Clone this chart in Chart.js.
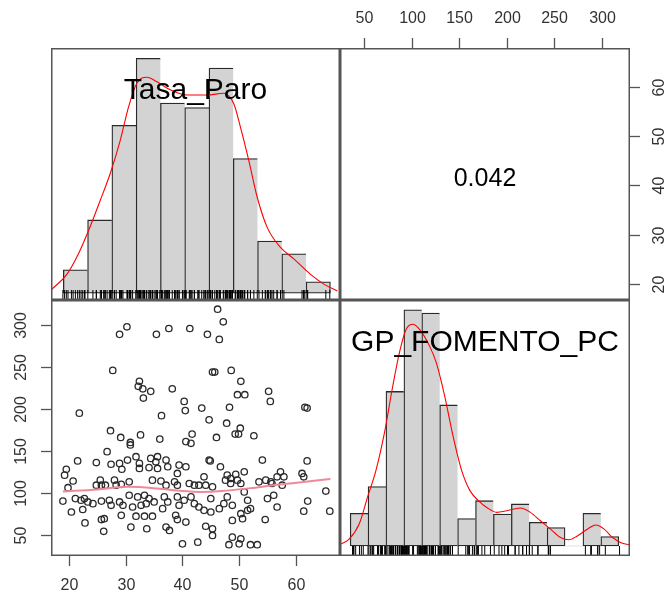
<!DOCTYPE html>
<html>
<head>
<meta charset="utf-8">
<script src="https://cdn.jsdelivr.net/npm/chart.js@4/dist/chart.umd.min.js"></script>
<style>
html,body{margin:0;padding:0;background:#fff;}
#wrap{position:relative;width:667px;height:594px;overflow:hidden;}
canvas{position:absolute;left:0;top:0;}
</style>
</head>
<body>
<div id="wrap">
<canvas id="cTL" width="667" height="594"></canvas>
<canvas id="cTR" width="667" height="594"></canvas>
<canvas id="cBL" width="667" height="594"></canvas>
<canvas id="cBR" width="667" height="594"></canvas>
</div>
<script>
// ---------------- data ----------------
const varNames = ['Tasa_Paro', 'GP_FOMENTO_PC'];
const correlation = 0.042;

const tasaTicks = [20, 30, 40, 50, 60];
const gpTicks = [50, 100, 150, 200, 250, 300];

// histogram of Tasa_Paro (bin edges, density per bin)
const tasaBinEdges = [18.97, 23.26, 27.54, 31.83, 36.11, 40.40, 44.68, 48.97, 53.25, 57.54, 61.82, 66.11];
const tasaHist = [0.0041, 0.0128, 0.0293, 0.0410, 0.0332, 0.0324, 0.0393, 0.0235, 0.0091, 0.0069, 0.0020];

// kernel density of Tasa_Paro
const tasaDensX = [16.94, 19.59, 21.65, 23.41, 25.48, 27.25, 29.02, 30.48, 31.97, 33.74, 35.5, 37.85, 40.8, 44.34, 47.27, 49.04, 50.23, 51.7, 53.18, 54.95, 57.3, 59.65, 62.6, 64.95, 67.32];
const tasaDensY = [0.0007, 0.0033, 0.0069, 0.0109, 0.0162, 0.0209, 0.0267, 0.0325, 0.0367, 0.0377, 0.0369, 0.0355, 0.0346, 0.0346, 0.0349, 0.0331, 0.0290, 0.0232, 0.0168, 0.0115, 0.0080, 0.0060, 0.0033, 0.0016, 0.0004];

// histogram of GP_FOMENTO_PC
const gpBinEdges = [35.2, 54.1, 72.9, 91.8, 110.7, 129.5, 148.4, 167.3, 186.1, 205.0, 223.9, 242.7, 261.6, 280.4, 299.3, 318.2];
const gpHist = [0.00159, 0.00290, 0.00754, 0.01152, 0.01136, 0.00688, 0.00134, 0.00221, 0.00156, 0.00205, 0.00115, 0.00090, 0, 0.00159, 0.00046];

// kernel density of GP_FOMENTO_PC
const gpDensX = [24.5, 34.1, 44.7, 53.5, 62.4, 71.2, 80.0, 87.1, 94.2, 101.2, 108.3, 118.9, 126.0, 134.9, 143.7, 152.6, 161.4, 170.2, 179.1, 189.7, 200.3, 214.4, 225.0, 235.6, 246.2, 256.8, 265.6, 274.5, 285.1, 293.9, 302.8, 311.7, 320.5, 329.3];
const gpDensY = [0.00008, 0.00033, 0.00107, 0.00238, 0.00369, 0.00549, 0.00778, 0.00943, 0.01057, 0.01082, 0.01057, 0.00975, 0.00893, 0.00729, 0.00533, 0.00369, 0.00270, 0.00221, 0.00188, 0.00164, 0.00172, 0.00185, 0.00164, 0.00123, 0.00082, 0.00041, 0.00030, 0.00049, 0.00082, 0.00102, 0.00082, 0.00041, 0.00016, 0.00005];

// scatter: Tasa_Paro (x) vs GP_FOMENTO_PC (y)
const tasaParo = [
 46.2,47.2,30.2,28.9,35.4,37.6,41.3,44.4,46.5,
 27.7,45.3,45.7,48.6,32.4,32.2,33.0,34.4,33.1,38.2,
 50.3,49.7,51.0,55.2,55.5,40.3,40.5,43.4,48.3,21.8,61.6,62.0,
 36.3,44.7,47.8,49.3,50.2,49.9,41.7,41.5,40.6,36.0,46.0,52.6,
 27.3,29.1,32.6,30.8,30.8,26.7,31.8,35.6,54.1,62.0,
 21.5,24.8,27.4,28.9,29.3,19.5,19.2,20.7,19.8,
 25.5,24.8,25.7,26.4,28.0,28.3,29.2,
 30.3,32.4,32.4,34.4,35.3,37.1,34.1,35.6,37.4,39.4,40.6,39.1,
 34.7,36.2,37.1,38.6,39.1,41.2,42.1,30.6,
 44.7,44.9,46.7,47.9,48.5,49.4,49.7,50.3,48.5,50.9,47.6,
 43.8,44.1,42.9,45.3,53.5,54.7,55.6,50.9,
 57.3,57.9,56.7,57.6,55.8,61.1,61.4,65.3,
 18.9,21.1,22.1,22.7,23.3,24.2,25.7,27.1,27.4,28.9,29.5,
 20.4,22.4,25.7,26.2,29.2,22.8,26.1,
 30.6,32.1,33.3,34.1,35.0,33.6,32.7,31.2,36.8,37.4,39.1,40.3,41.5,42.1,39.4,36.5,
 31.8,33.3,34.7,38.8,40.6,39.1,30.9,33.7,37.1,37.7,40.0,42.7,
 55.0,51.5,45.0,47.9,47.3,48.8,46.5,43.8,45.0,42.9,50.3,51.5,52.0,50.6,48.8,44.1,45.3,45.3,48.8,50.3,48.2,50.0,52.0,53.2,
 56.1,56.7,62.1,61.4,66.0,54.6
];
const gpFomento = [
 319,304,298,289,289,296,296,289,283,
 246,244,244,246,233,227,224,221,213,224,
 233,217,217,221,209,209,198,201,202,195,202,201,
 192,187,183,170,177,170,170,159,161,164,166,168,
 174,166,169,160,157,149,143,143,139,138,
 138,136,134,135,128,128,121,114,106,
 115,109,109,109,115,109,110,
 139,135,129,141,137,139,130,129,131,133,131,123,
 115,114,109,113,109,111,109,113,
 139,138,131,121,117,122,115,111,111,125,115,
 119,109,109,107,113,115,113,101,
 125,119,119,109,111,123,119,102,
 90,93,91,93,89,87,90,91,85,89,85,
 77,80,68,69,73,64,54,
 97,95,97,93,89,87,85,83,95,89,95,91,95,87,85,81,
 72,72,72,73,65,68,59,57,59,55,39,41,
 93,91,93,95,87,85,81,79,77,83,75,79,81,69,67,60,57,49,47,45,38,39,38,38,
 97,83,90,78,78,68
];

// smoothed (loess) fit through the scatter
const smoothX = [18.9, 25.0, 30.4, 35.6, 40.0, 43.2, 47.0, 52.0, 56.1, 61.0, 66.1];
const smoothY = [101.5, 104, 107, 105, 102, 101, 102, 105.5, 109, 112.5, 116.5];

// ---------------- layout / style ----------------
const W = 667, H = 594;
const FONT = '"Liberation Sans", Arial, Helvetica, sans-serif';
const boxes = {
  TL: {l: 51, t: 48, r: 340, b: 300},
  TR: {l: 340, t: 48, r: 630, b: 300},
  BL: {l: 51, t: 300, r: 340, b: 556},
  BR: {l: 340, t: 300, r: 630, b: 556}
};
const tasaRange = {min: 16.8, max: 67.8};
const gpRange = {min: 24.5, max: 330};
const tasaHistY = {min: -0.00117, max: 0.0428};
const gpHistY = {min: -0.00049, max: 0.0120};

function pad(b) { return {left: b.l, top: b.t, right: W - b.r, bottom: H - b.b}; }

const decor = {
  id: 'decor',
  afterDatasetsDraw(chart, args, o) {
    const ctx = chart.ctx, a = chart.chartArea;
    ctx.save();
    if (o.text) {
      ctx.fillStyle = '#000';
      ctx.font = o.size + 'px ' + FONT;
      ctx.textAlign = 'center';
      ctx.textBaseline = 'alphabetic';
      ctx.fillText(o.text, (a.left + a.right) / 2, a.top + o.dy);
    }
    ctx.strokeStyle = '#555';
    ctx.lineWidth = 1.5;
    ctx.strokeRect(Math.round(a.left) + 0.75, Math.round(a.top) + 0.75,
                   Math.round(a.right - a.left) - 1.5, Math.round(a.bottom - a.top) - 1.5);
    ctx.lineWidth = 1.3;
    ctx.font = '16px ' + FONT;
    ctx.fillStyle = '#333';
    const tl = 10;
    if (o.bottom) {
      const s = chart.scales.x;
      o.bottom.forEach(v => {
        const x = Math.round(s.getPixelForValue(v)) + 0.5;
        ctx.beginPath(); ctx.moveTo(x, a.bottom); ctx.lineTo(x, a.bottom + tl); ctx.stroke();
        ctx.textAlign = 'center'; ctx.textBaseline = 'middle';
        ctx.fillText(String(v), x, a.bottom + 30);
      });
    }
    if (o.top) {
      const s = chart.scales.x;
      o.top.forEach(v => {
        const x = Math.round(s.getPixelForValue(v)) + 0.5;
        ctx.beginPath(); ctx.moveTo(x, a.top); ctx.lineTo(x, a.top - tl); ctx.stroke();
        ctx.textAlign = 'center'; ctx.textBaseline = 'middle';
        ctx.fillText(String(v), x, a.top - 29);
      });
    }
    if (o.left) {
      const s = chart.scales.y;
      o.left.forEach(v => {
        const y = Math.round(s.getPixelForValue(v)) + 0.5;
        ctx.beginPath(); ctx.moveTo(a.left, y); ctx.lineTo(a.left - tl, y); ctx.stroke();
        ctx.save(); ctx.translate(a.left - 29, y); ctx.rotate(-Math.PI / 2);
        ctx.textAlign = 'center'; ctx.textBaseline = 'middle';
        ctx.fillText(String(v), 0, 0); ctx.restore();
      });
    }
    if (o.right) {
      const s = chart.scales.y;
      o.right.forEach(v => {
        const y = Math.round(s.getPixelForValue(v)) + 0.5;
        ctx.beginPath(); ctx.moveTo(a.right, y); ctx.lineTo(a.right + tl, y); ctx.stroke();
        ctx.save(); ctx.translate(a.right + 30, y); ctx.rotate(-Math.PI / 2);
        ctx.textAlign = 'center'; ctx.textBaseline = 'middle';
        ctx.fillText(String(v), 0, 0); ctx.restore();
      });
    }
    ctx.restore();
  }
};
Chart.register(decor);

function baseOptions(box, xr, yr, decorOpts) {
  return {
    responsive: false, animation: false, events: [], devicePixelRatio: 1,
    layout: {padding: pad(box)},
    plugins: {legend: {display: false}, tooltip: {enabled: false}, decor: decorOpts},
    scales: {
      x: {type: 'linear', display: false, min: xr.min, max: xr.max, offset: false},
      y: {type: 'linear', display: false, min: yr.min, max: yr.max}
    }
  };
}

function histDatasets(edges, dens, densX, densY, values, yr, box) {
  const bars = dens.map((d, i) => ({x: (edges[i] + edges[i + 1]) / 2, y: d}));
  const pxPerUnit = (box.b - box.t) / (yr.max - yr.min);
  const rugY = yr.min + 5 / pxPerUnit;
  return [
    {
      type: 'bar', data: bars, order: 3,
      backgroundColor: '#d3d3d3', borderColor: '#2a2a2a',
      borderSkipped: false,
      borderWidth: c => {
        const i = c.dataIndex;
        if (dens[i] === 0) return 0;
        const last = (i === dens.length - 1) || dens[i + 1] === 0;
        return {top: 1.3, bottom: 1.3, left: 1.3, right: last ? 1.3 : 0};
      },
      barPercentage: 1, categoryPercentage: 1, grouped: false
    },
    {
      type: 'line', data: values.map(v => ({x: v, y: rugY})), order: 2,
      showLine: false, pointStyle: 'line', rotation: 90, pointRadius: 5,
      pointBorderColor: '#000', pointBorderWidth: 1
    },
    {
      type: 'line', data: densX.map((x, i) => ({x: x, y: densY[i]})), order: 1,
      borderColor: '#ff0000', borderWidth: 1.1, pointRadius: 0,
      cubicInterpolationMode: 'monotone', fill: false
    }
  ];
}

new Chart(document.getElementById('cTL'), {
  type: 'bar',
  data: {datasets: histDatasets(tasaBinEdges, tasaHist, tasaDensX, tasaDensY, tasaParo, tasaHistY, boxes.TL)},
  options: baseOptions(boxes.TL, tasaRange, tasaHistY, {text: varNames[0], size: 30, dy: 51})
});

new Chart(document.getElementById('cTR'), {
  type: 'scatter',
  data: {datasets: [{data: []}]},
  options: baseOptions(boxes.TR, gpRange, tasaRange,
    {text: correlation.toFixed(3), size: 25, dy: 138, top: gpTicks, right: tasaTicks})
});

new Chart(document.getElementById('cBL'), {
  type: 'scatter',
  data: {datasets: [
    {
      type: 'line', data: smoothX.map((x, i) => ({x: x, y: smoothY[i]})), order: 1,
      borderColor: '#f08898', borderWidth: 2, pointRadius: 0,
      cubicInterpolationMode: 'monotone', fill: false
    },
    {
      data: tasaParo.map((x, i) => ({x: x, y: gpFomento[i]})), order: 2,
      pointStyle: 'circle', pointRadius: 3.2, pointBorderWidth: 1.3,
      pointBorderColor: '#2a2a2a', pointBackgroundColor: 'rgba(0,0,0,0)'
    }
  ]},
  options: baseOptions(boxes.BL, tasaRange, gpRange, {bottom: tasaTicks, left: gpTicks})
});

new Chart(document.getElementById('cBR'), {
  type: 'bar',
  data: {datasets: histDatasets(gpBinEdges, gpHist, gpDensX, gpDensY, gpFomento, gpHistY, boxes.BR)},
  options: baseOptions(boxes.BR, gpRange, gpHistY, {text: varNames[1], size: 30, dy: 51})
});
</script>
</body>
</html>
